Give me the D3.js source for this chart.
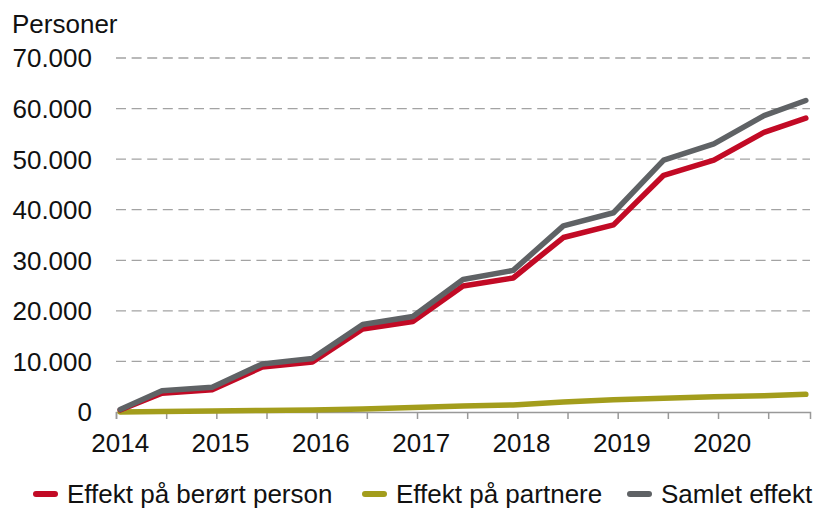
<!DOCTYPE html>
<html>
<head>
<meta charset="utf-8">
<script src="https://cdn.jsdelivr.net/npm/d3@7"></script>
<style>
  html, body { margin: 0; padding: 0; background: #fff; }
  svg { display: block; font-family: "Liberation Sans", Arial, sans-serif; }
</style>
</head>
<body>
<svg id="chart" width="816" height="509"></svg>
<script>
// ---- data ----
const periods = ["2014-01","2014-06","2014-12","2015-06","2015-12","2016-06","2016-12",
                 "2017-06","2017-12","2018-06","2018-12","2019-06","2019-12","2020-06","2020-11"];
const berortPerson = [400, 3700, 4400, 8900, 9900, 16400, 17900, 24900, 26500, 34500, 37000, 46800, 49800, 55300, 58100];
const partnere     = [0, 100, 200, 300, 400, 600, 900, 1200, 1400, 2000, 2400, 2700, 3000, 3200, 3500];
const samlet       = [500, 4200, 4900, 9500, 10600, 17300, 18900, 26200, 28000, 36800, 39400, 49800, 53000, 58600, 61600];
const yTicks = [0, 10000, 20000, 30000, 40000, 50000, 60000, 70000];
const yearLabels = ["2014","2015","2016","2017","2018","2019","2020"];
const seriesNames = ["Effekt på berørt person", "Effekt på partnere", "Samlet effekt"];
const seriesColors = ["#c20a25", "#a39d1c", "#5f6265"];
const yAxisTitle = "Personer";

// ---- helpers ----
const monthIndex = s => { const [y, m] = s.split("-").map(Number); return (y - 2014) * 12 + (m - 1) + 0.5; };
const nbLocale = d3.formatLocale({ decimal: ",", thousands: ".", grouping: [3], currency: ["", " kr"] });
const fmt = nbLocale.format(",d");

const svg = d3.select("#chart");
const x = d3.scaleLinear().domain([0, 83]).range([116, 810]);
const y = d3.scaleLinear().domain([0, 70000]).range([412, 58]);

// gridlines
svg.append("g").selectAll("line").data(yTicks.filter(d => d > 0)).join("line")
  .attr("x1", x(0)).attr("x2", x(83))
  .attr("y1", d => y(d)).attr("y2", d => y(d))
  .attr("stroke", "#a3a3a3").attr("stroke-width", 1.3).attr("stroke-dasharray", "10,5.6");

// y tick labels
svg.append("g").selectAll("text").data(yTicks).join("text")
  .attr("x", 92).attr("y", d => y(d)).attr("dy", "0.36em")
  .attr("text-anchor", "end").attr("font-size", 26).attr("fill", "#111")
  .text(d => fmt(d));

// y axis title
svg.append("text").attr("x", 12).attr("y", 33).attr("font-size", 26).attr("fill", "#111").text(yAxisTitle);

// x axis
const xAxis = d3.axisBottom(x).tickValues(d3.range(0, 84, 6)).tickSize(7).tickFormat("");
const gx = svg.append("g").attr("transform", "translate(0,412)").call(xAxis);
gx.select(".domain").attr("stroke", "#999").attr("stroke-width", 1.5);
gx.selectAll(".tick line").attr("stroke", "#999").attr("stroke-width", 1.5);

svg.append("g").selectAll("text").data(yearLabels).join("text")
  .attr("x", d => x((+d - 2014) * 12 + 0.5)).attr("y", 452)
  .attr("text-anchor", "middle").attr("font-size", 26).attr("fill", "#111")
  .text(d => d);

// lines
const allSeries = [berortPerson, partnere, samlet];
const line = d3.line().x((d, i) => x(monthIndex(periods[i]))).y(d => y(d));
const drawOrder = [1, 0, 2];
svg.append("g").selectAll("path").data(drawOrder).join("path")
  .attr("d", k => line(allSeries[k]))
  .attr("fill", "none").attr("stroke", k => seriesColors[k])
  .attr("stroke-width", 5.5).attr("stroke-linejoin", "round").attr("stroke-linecap", "round");

// legend
const legendItems = [
  { name: seriesNames[0], color: seriesColors[0], x0: 36 },
  { name: seriesNames[1], color: seriesColors[1], x0: 365 },
  { name: seriesNames[2], color: seriesColors[2], x0: 630 }
];
const lg = svg.append("g");
legendItems.forEach(it => {
  lg.append("line").attr("x1", it.x0).attr("x2", it.x0 + 19).attr("y1", 494).attr("y2", 494)
    .attr("stroke", it.color).attr("stroke-width", 6).attr("stroke-linecap", "round");
  lg.append("text").attr("x", it.x0 + 31).attr("y", 502.5).attr("font-size", 26).attr("fill", "#111").text(it.name);
});
</script>
</body>
</html>
